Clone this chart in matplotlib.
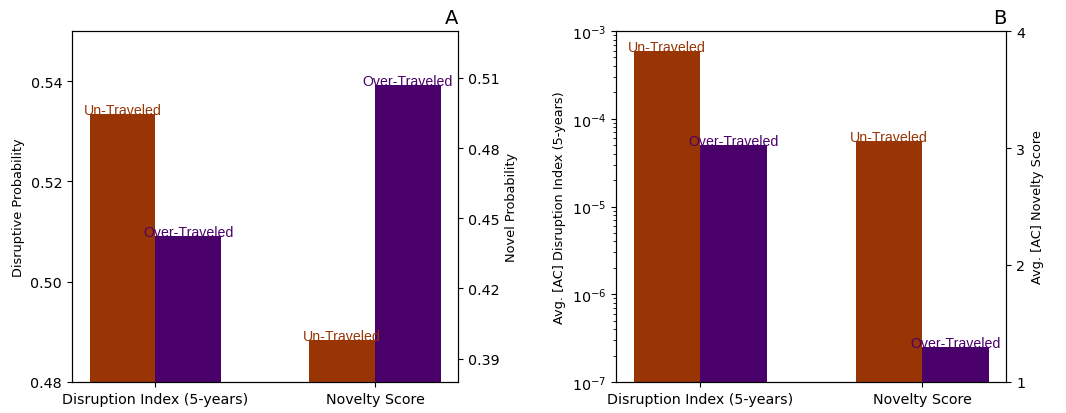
import matplotlib.pyplot as plt
import numpy as np

# data
categories = ['Disruption Index (5-years)', 'Novelty Score']
groups = ['Un-Traveled', 'Over-Traveled']

# panel A: disruptive probability (left axis), novel probability (right axis)
disrupt_prob = [0.5335, 0.5091]
novel_prob = [0.3978, 0.5070]

# panel B: avg disruption index (log, left axis), avg novelty score (right axis)
avg_disrupt = [5.96e-4, 5.06e-5]
avg_novelty = [3.062, 1.302]

colors = ['#993404', '#49006a']
w = 0.3

plt.rcParams['font.size'] = 10.3

fig = plt.figure(figsize=(10.66, 4.14), dpi=100)
axA = fig.add_axes([0.0675, 0.075, 0.3625, 0.8475])
axB = fig.add_axes([0.578, 0.075, 0.366, 0.8475])

x = np.arange(len(categories))


def draw_panel(ax, left_vals, right_vals):
    ax2 = ax.twinx()
    offsets = [-w, 0]
    for i in range(2):
        # first category on the left axis, second on the right axis
        ax.bar(x[0] + offsets[i], left_vals[i], w, align='edge', color=colors[i])
        ax2.bar(x[1] + offsets[i], right_vals[i], w, align='edge', color=colors[i])
    for i in range(2):
        ax.text(x[0] + offsets[i] + w / 2, left_vals[i], groups[i], color=colors[i],
                ha='center', va='baseline', family='Liberation Sans', fontsize=10.2, zorder=5)
        ax2.text(x[1] + offsets[i] + w / 2, right_vals[i], groups[i], color=colors[i],
                 ha='center', va='baseline', family='Liberation Sans', fontsize=10.2, zorder=5)
    ax.set_xticks(x)
    ax.set_xticklabels(categories)
    ax.set_xlim(-0.38, 1.38)
    return ax2


axA2 = draw_panel(axA, [disrupt_prob[0], disrupt_prob[1]], [novel_prob[0], novel_prob[1]])
axA.set_ylim(0.48, 0.55)
axA.set_yticks([0.48, 0.50, 0.52, 0.54])
axA2.set_ylim(0.38, 0.53)
axA2.set_yticks([0.39, 0.42, 0.45, 0.48, 0.51])
axA.set_ylabel('Disruptive Probability', fontsize=9.3)
axA2.set_ylabel('Novel Probability', fontsize=9.3)
axA.set_title('A', loc='right', fontsize=14)

axB2 = draw_panel(axB, avg_disrupt, avg_novelty)
axB.set_yscale('log')
axB.set_ylim(1e-7, 1e-3)
axB2.set_ylim(1, 4)
axB2.set_yticks([1, 2, 3, 4])
axB.set_ylabel('Avg. [AC] Disruption Index (5-years)', fontsize=9.3)
axB2.set_ylabel('Avg. [AC] Novelty Score', fontsize=9.3)
axB.set_title('B', loc='right', fontsize=14)

fig.savefig('out.png', dpi=100)
